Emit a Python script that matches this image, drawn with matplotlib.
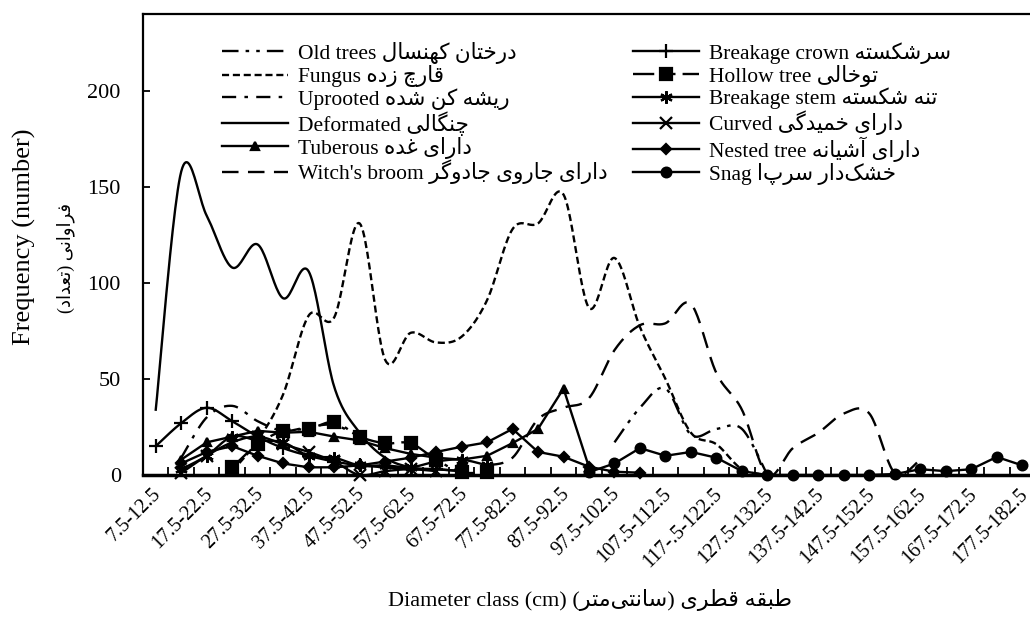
import numpy as np
import matplotlib
matplotlib.use("Agg")
import matplotlib.pyplot as plt
import matplotlib.transforms as mtransforms
from matplotlib.lines import Line2D

plt.rcParams["font.family"] = ["Liberation Serif", "DejaVu Sans"]

nan = np.nan

categories = [
    "7.5-12.5", "12.5-17.5", "17.5-22.5", "22.5-27.5", "27.5-32.5", "32.5-37.5",
    "37.5-42.5", "42.5-47.5", "47.5-52.5", "52.5-57.5", "57.5-62.5", "62.5-67.5",
    "67.5-72.5", "72.5-77.5", "77.5-82.5", "82.5-87.5", "87.5-92.5", "92.5-97.5",
    "97.5-102.5", "102.5-107.5", "107.5-112.5", "112.5-117.5", "117-.5-122.5",
    "122.5-127.5", "127.5-132.5", "132.5-137.5", "137.5-142.5", "142.5-147.5",
    "147.5-152.5", "152.5-157.5", "157.5-162.5", "162.5-167.5", "167.5-172.5",
    "172.5-177.5", "177.5-182.5",
]

old_trees = [nan] * 18 + [17, 35, 45, 21, 24, 24, 0] + [nan] * 10
fungus = [nan, nan, nan, 2, 18, 42, 83, 82, 131, 60, 74, 69, 72, 91, 128, 131, 146,
          87, 113, 77, 50, 22, 16, 3, 0] + [nan] * 10
uprooted = [nan, 9, 30, 36, 28, 23, 25, 26, 20] + [nan] * 26
deformated = [34, 158, 135, 108, 120, 92, 106, 46, 22, 9, 4, 3, 2] + [nan] * 22
tuberous = [nan, 8, 17, 20, 23, 22, 22.5, 20, 18, 14, 11, 9, 8, 10, 16.6, 24, 45, 4] + [nan] * 17
witch_broom = [nan] * 13 + [5, 9, 29, 35, 40, 65, 78, 79, 89, 53, 34, 0, 14, 22, 32, 32, 1, 8] + [nan] * 4
breakage_crown = [15, 27, 35, 28, 20, 14, 10, 7, 5, 4, 3, 3, 2] + [nan] * 22
hollow_tree = [nan, nan, nan, 4, 16, 23, 24, 27.5, 20, 16.5, 16.5, 8, 1.5, 1.5] + [nan] * 21
breakage_stem = [nan, 3, 10, 20, 18, 17, 10, 9, 5, 5, 4, 7, 8, 5] + [nan] * 21
curved = [nan, 1, 10, 17, 20, 16, 12, 7, 0, 2, 3, 2] + [nan] * 23
nested_tree = [nan, 6, 12, 15, 10, 6, 4, 4, 5, 7, 9, 12, 14.7, 17, 24, 12, 9.5, 4.3, 1.7, 1.2] + [nan] * 15
snag = [nan] * 17 + [1.5, 6, 14, 10, 12, 9, 2, 0, 0, 0, 0, 0, 0.5, 3, 2, 3, 9.4, 5]

# Persian letters -> (isolated, final, initial, medial) presentation forms
FORMS = {
    "ا": ("\uFE8D", "\uFE8E", None, None),
    "آ": ("\uFE81", "\uFE82", None, None),
    "د": ("\uFEA9", "\uFEAA", None, None),
    "ر": ("\uFEAD", "\uFEAE", None, None),
    "ز": ("\uFEAF", "\uFEB0", None, None),
    "و": ("\uFEED", "\uFEEE", None, None),
    "ب": ("\uFE8F", "\uFE90", "\uFE91", "\uFE92"),
    "ت": ("\uFE95", "\uFE96", "\uFE97", "\uFE98"),
    "ج": ("\uFE9D", "\uFE9E", "\uFE9F", "\uFEA0"),
    "خ": ("\uFEA5", "\uFEA6", "\uFEA7", "\uFEA8"),
    "س": ("\uFEB1", "\uFEB2", "\uFEB3", "\uFEB4"),
    "ش": ("\uFEB5", "\uFEB6", "\uFEB7", "\uFEB8"),
    "ط": ("\uFEC1", "\uFEC2", "\uFEC3", "\uFEC4"),
    "ع": ("\uFEC9", "\uFECA", "\uFECB", "\uFECC"),
    "غ": ("\uFECD", "\uFECE", "\uFECF", "\uFED0"),
    "ف": ("\uFED1", "\uFED2", "\uFED3", "\uFED4"),
    "ق": ("\uFED5", "\uFED6", "\uFED7", "\uFED8"),
    "ل": ("\uFEDD", "\uFEDE", "\uFEDF", "\uFEE0"),
    "م": ("\uFEE1", "\uFEE2", "\uFEE3", "\uFEE4"),
    "ن": ("\uFEE5", "\uFEE6", "\uFEE7", "\uFEE8"),
    "ه": ("\uFEE9", "\uFEEA", "\uFEEB", "\uFEEC"),
    "ی": ("\uFBFC", "\uFBFD", "\uFBFE", "\uFBFF"),
    "ک": ("\uFB8E", "\uFB8F", "\uFB90", "\uFB91"),
    "گ": ("\uFB92", "\uFB93", "\uFB94", "\uFB95"),
    "چ": ("\uFB7A", "\uFB7B", "\uFB7C", "\uFB7D"),
}


def fa(s):
    # shape and reorder Persian text, matplotlib has no bidi support
    out = []
    for i, ch in enumerate(s):
        if ch not in FORMS:
            out.append(ch)
            continue
        prev = s[i - 1] if i > 0 else ""
        nxt = s[i + 1] if i + 1 < len(s) else ""
        jp = prev in FORMS and FORMS[prev][2] is not None
        jn = FORMS[ch][2] is not None and nxt in FORMS
        iso, fin, ini, med = FORMS[ch]
        out.append(med if jp and jn else fin if jp else ini if jn else iso)
    vis = "".join(out).replace("\u200c", "")[::-1]
    return vis.translate(str.maketrans("()", ")("))


def smooth(y, n=24):
    # Excel style smoothed line (Catmull-Rom as cubic Bezier)
    y = np.asarray(y, float)
    x = np.arange(len(y), dtype=float)
    xs, ys = [], []
    idx = np.where(~np.isnan(y))[0]
    runs = np.split(idx, np.where(np.diff(idx) > 1)[0] + 1)
    t = np.linspace(0, 1, n)[:, None]
    for run in runs:
        pts = np.column_stack([x[run], y[run]])
        for i in range(len(pts) - 1):
            p0 = pts[max(i - 1, 0)]
            p1 = pts[i]
            p2 = pts[i + 1]
            p3 = pts[min(i + 2, len(pts) - 1)]
            c1 = p1 + (p2 - p0) / 6
            c2 = p2 - (p3 - p1) / 6
            seg = (1 - t) ** 3 * p1 + 3 * (1 - t) ** 2 * t * c1 + 3 * (1 - t) * t ** 2 * c2 + t ** 3 * p2
            xs.extend(seg[:, 0])
            ys.extend(seg[:, 1])
        xs.append(nan)
        ys.append(nan)
    return np.array(xs), np.array(ys)


fig = plt.figure(figsize=(10.3, 6.3), dpi=100)
ax = fig.add_axes([143 / 1030, 155 / 630, 892 / 1030, 461 / 630])

LW = 1.7
x = np.arange(len(categories))

series = [
    # label, data, linestyle, marker, markersize, smoothed
    ("Old trees " + fa("درختان کهنسال"), old_trees, (0, (7, 3, 1.5, 3, 1.5, 3)), None, 0, True),
    ("Fungus " + fa("قارچ زده"), fungus, (0, (3, 1.6)), None, 0, True),
    ("Uprooted " + fa("ریشه کن شده"), uprooted, (0, (6, 3.5, 1.5, 3.5)), None, 0, True),
    ("Deformated " + fa("چنگالی"), deformated, "-", None, 0, True),
    ("Tuberous " + fa("دارای غده"), tuberous, "-", "^", 6, False),
    ("Witch's broom " + fa("دارای جاروی جادوگر"), witch_broom, (0, (7, 4)), None, 0, True),
    ("Breakage crown " + fa("سرشکسته"), breakage_crown, "-", "+", 10, True),
    ("Hollow tree " + fa("توخالی"), hollow_tree, (0, (9, 3, 1.5, 3, 1.5, 3)), "s", 9, True),
    ("Breakage stem " + fa("تنه شکسته"), breakage_stem, "-", (6, 2, 0), 9, True),
    ("Curved " + fa("دارای خمیدگی"), curved, "-", "x", 8, True),
    ("Nested tree " + fa("دارای آشیانه"), nested_tree, "-", "D", 5.5, False),
    ("Snag " + fa("خشک\u200cدار سرپا"), snag, "-", "o", 7, False),
]

handles = []
for label, data, ls, mk, ms, sm in series:
    if sm:
        sx, sy = smooth(data)
    else:
        sx, sy = x, np.asarray(data, float)
    ax.plot(sx, sy, color="black", lw=LW, linestyle=ls, clip_on=False, zorder=2)
    if mk is not None:
        ax.plot(x, data, linestyle="none", marker=mk, ms=ms, color="black",
                mec="black", mew=1.6, clip_on=False, zorder=3)
    handles.append(Line2D([], [], color="black", lw=LW, linestyle=ls, marker=mk,
                          ms=ms, mew=1.6, label=label))

ax.set_xlim(-0.5, len(categories) - 0.5)
ax.set_ylim(0, 240)
ax.set_yticks([0, 50, 100, 150, 200])
ax.tick_params(axis="y", direction="in", length=5, width=1.3, labelsize=16, pad=16)

ax.set_xticks(np.arange(0.5, len(categories) - 0.5), minor=False)
ax.set_xticklabels([])
ax.tick_params(axis="x", which="major", direction="in", length=6, width=1.3)
ax.set_xticks(x[::2], minor=True)
ax.set_xticklabels(categories[::2], minor=True, rotation=45, ha="right",
                   rotation_mode="anchor", fontsize=14.5)
ax.tick_params(axis="x", which="minor", length=0, pad=7)
shift = mtransforms.ScaledTranslation(-4 / 100, 0, fig.dpi_scale_trans)
for lab in ax.get_xticklabels(minor=True):
    lab.set_transform(lab.get_transform() + shift)

for side in ["top", "left"]:
    ax.spines[side].set_linewidth(1.6)
ax.spines["bottom"].set_linewidth(2.5)
ax.spines["right"].set_visible(False)

leg_kw = dict(loc="upper left", frameon=False, fontsize=15.5, handlelength=3.05,
              handletextpad=0.5, labelspacing=0.05, borderpad=0, borderaxespad=0)
leg1 = fig.legend(handles=handles[:6], bbox_to_anchor=(222 / 1030, 1 - 42 / 630), **leg_kw)
leg2 = fig.legend(handles=handles[6:], bbox_to_anchor=(633 / 1030, 1 - 42 / 630), **leg_kw)

fig.text(24 / 1030, 1 - 237 / 630, "Frequency (number)", rotation=90, fontsize=19,
         ha="center", va="center")
fig.text(66 / 1030, 1 - 258 / 630, fa("فراوانی (تعداد)"), rotation=90, fontsize=13,
         ha="center", va="center")
fig.text(590 / 1030, 1 - 600 / 630, "Diameter class (cm) " + fa("طبقه قطری (سانتی\u200cمتر)"),
         fontsize=16, ha="center", va="center")

fig.savefig("out.png", dpi=100)
